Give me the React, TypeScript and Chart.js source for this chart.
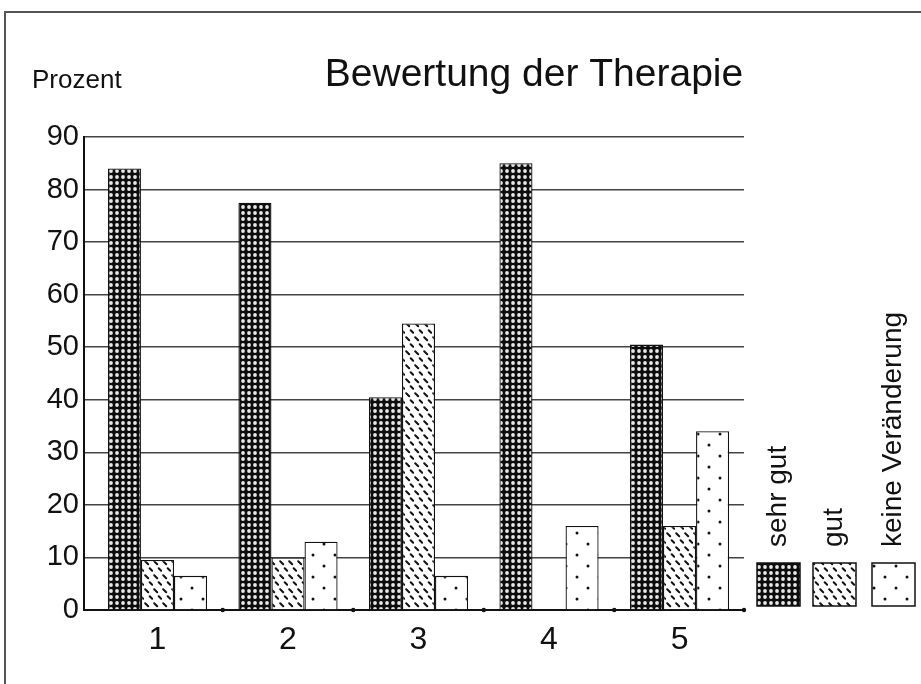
import React, { useEffect, useRef } from "react";
import { Chart, registerables } from "chart.js";

Chart.register(...registerables);

// ---- data ----
const categories = [1, 2, 3, 4, 5];
const sehrGut = [84, 77.5, 40.5, 85, 50.5];
const gut = [9.5, 10, 54.5, 0, 16];
const keineVeraenderung = [6.5, 13, 6.5, 16, 34];
const seriesNames = ["sehr gut", "gut", "keine Veränderung"];
const chartTitle = "Bewertung der Therapie";
const yAxisTitle = "Prozent";
const yMin = 0;
const yMax = 90;
const yStep = 10;

const FONT = "'Liberation Sans', Arial, Helvetica, sans-serif";

function makePattern(target: CanvasRenderingContext2D, kind: number): CanvasPattern | string {
  const c = document.createElement("canvas");
  const ctx = c.getContext("2d")!;
  if (kind === 0) {
    c.width = 6;
    c.height = 6;
    ctx.fillStyle = "#0d0d0d";
    ctx.fillRect(0, 0, 6, 6);
    ctx.fillStyle = "#e8e8e8";
    ctx.beginPath();
    ctx.arc(3, 3, 1.9, 0, Math.PI * 2);
    ctx.fill();
  } else if (kind === 1) {
    c.width = 9;
    c.height = 14;
    ctx.fillStyle = "#fff";
    ctx.fillRect(0, 0, 9, 14);
    ctx.strokeStyle = "#111";
    ctx.lineWidth = 2;
    ctx.lineCap = "round";
    ctx.beginPath();
    ctx.moveTo(1.2, 1.2);
    ctx.lineTo(4.2, 4.2);
    ctx.moveTo(5.7, 8.2);
    ctx.lineTo(8.2, 10.7);
    ctx.stroke();
  } else {
    c.width = 22;
    c.height = 22;
    ctx.fillStyle = "#fff";
    ctx.fillRect(0, 0, 22, 22);
    ctx.fillStyle = "#111";
    ctx.beginPath();
    ctx.arc(5, 5, 1.5, 0, Math.PI * 2);
    ctx.arc(16, 16, 1.5, 0, Math.PI * 2);
    ctx.fill();
  }
  return target.createPattern(c, "repeat") || "#888";
}

export default function App() {
  const ref = useRef<HTMLCanvasElement | null>(null);

  useEffect(() => {
    const canvas = ref.current;
    if (!canvas) return;
    const ctx0 = canvas.getContext("2d")!;
    const patterns = [makePattern(ctx0, 0), makePattern(ctx0, 1), makePattern(ctx0, 2)];
    const seriesData = [sehrGut, gut, keineVeraenderung];

    const deco = {
      id: "deco",
      beforeDraw(chart: any) {
        const ctx = chart.ctx as CanvasRenderingContext2D;
        ctx.save();
        ctx.fillStyle = "#fff";
        ctx.fillRect(0, 0, chart.width, chart.height);
        ctx.strokeStyle = "#555";
        ctx.lineWidth = 2;
        ctx.beginPath();
        ctx.moveTo(5, 684);
        ctx.lineTo(5, 12);
        ctx.lineTo(921, 12);
        ctx.stroke();
        ctx.restore();
      },
      afterDraw(chart: any) {
        const ctx = chart.ctx as CanvasRenderingContext2D;
        const xs = chart.scales.x;
        const area = chart.chartArea;
        ctx.save();
        ctx.fillStyle = "#111";
        // title
        ctx.font = `39px ${FONT}`;
        ctx.textAlign = "center";
        ctx.textBaseline = "alphabetic";
        ctx.fillText(chartTitle, 534, 86);
        // y axis title
        ctx.font = `26px ${FONT}`;
        ctx.textAlign = "left";
        ctx.fillText(yAxisTitle, 32, 88);
        // dots at category boundaries on baseline
        for (let i = 0; i < categories.length; i++) {
          const px = xs.getPixelForValue(categories[i] + 0.5);
          ctx.beginPath();
          ctx.arc(Math.min(px, area.right), area.bottom, 2.2, 0, Math.PI * 2);
          ctx.fill();
        }
        // legend
        const lefts = [757, 813, 872];
        const sw = 43;
        const top = 563;
        for (let i = 0; i < seriesNames.length; i++) {
          const x = lefts[i];
          ctx.fillStyle = patterns[i] as any;
          ctx.fillRect(x, top, sw, sw);
          ctx.strokeStyle = "#111";
          ctx.lineWidth = 1.5;
          ctx.strokeRect(x, top, sw, sw);
          ctx.save();
          ctx.fillStyle = "#111";
          ctx.font = `28px ${FONT}`;
          ctx.translate(x + sw / 2, 547);
          ctx.rotate(-Math.PI / 2);
          ctx.textAlign = "left";
          ctx.textBaseline = "middle";
          ctx.fillText(seriesNames[i], 0, 0);
          ctx.restore();
        }
        ctx.restore();
      },
    };

    const chart = new Chart(canvas, {
      type: "bar",
      data: {
        labels: categories,
        datasets: seriesNames.map((name, i) => ({
          label: name,
          data: seriesData[i],
          backgroundColor: patterns[i] as any,
          borderColor: "#111",
          borderWidth: 1.3,
          categoryPercentage: 0.76,
          barPercentage: 1,
        })),
      },
      options: {
        responsive: false,
        animation: false,
        layout: { padding: { top: 137, right: 177, left: 0, bottom: 0 } },
        plugins: {
          legend: { display: false },
          tooltip: { enabled: false },
          title: { display: false },
        },
        scales: {
          x: {
            type: "linear",
            min: 0.437,
            max: 5.494,
            offset: false,
            grid: { display: false },
            border: { display: true, color: "#111", width: 2 },
            ticks: {
              stepSize: 1,
              includeBounds: false,
              autoSkip: false,
              maxRotation: 0,
              color: "#111",
              padding: 3,
              font: { size: 32, family: FONT },
              callback: (v: any) => (Number.isInteger(v) ? String(v) : ""),
            },
            afterFit: (s: any) => {
              s.height = 74;
            },
          },
          y: {
            min: yMin,
            max: yMax,
            grid: { color: "#444", lineWidth: 1.5, drawTicks: false },
            border: { color: "#111", width: 2 },
            ticks: {
              stepSize: yStep,
              color: "#111",
              padding: 5,
              font: { size: 29, family: FONT },
            },
            afterFit: (s: any) => {
              s.width = 84;
            },
          },
        },
      } as any,
      plugins: [deco],
    });

    return () => chart.destroy();
  }, []);

  return (
    <div style={{ position: "absolute", left: 0, top: 0, width: 921, height: 684 }}>
      <canvas ref={ref} width={921} height={684} style={{ display: "block" }} />
    </div>
  );
}
